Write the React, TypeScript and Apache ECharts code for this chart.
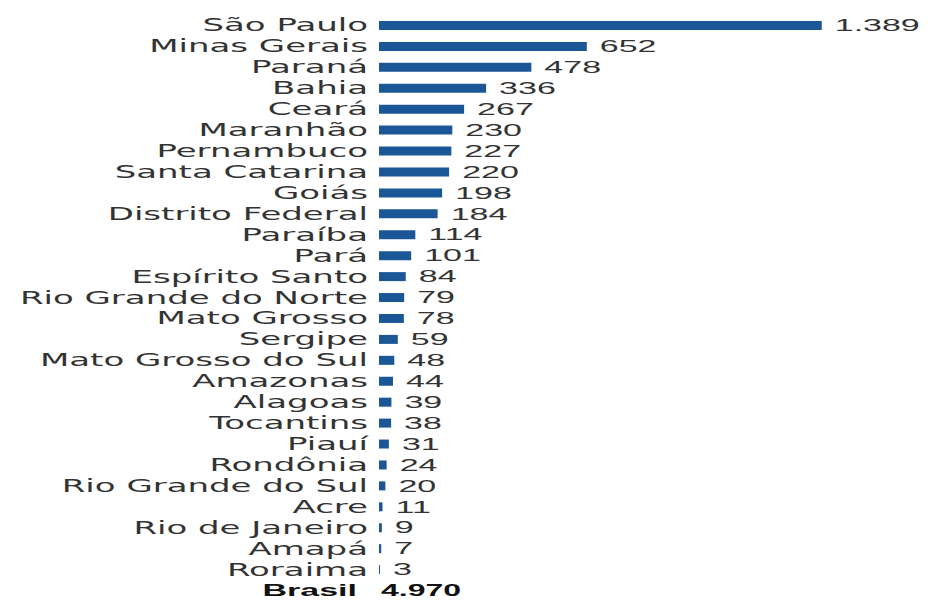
import React, { useEffect, useRef } from "react";
import * as echarts from "echarts";

const categories = [
  "São Paulo", "Minas Gerais", "Paraná", "Bahia", "Ceará", "Maranhão", "Pernambuco",
  "Santa Catarina", "Goiás", "Distrito Federal", "Paraíba", "Pará", "Espírito Santo",
  "Rio Grande do Norte", "Mato Grosso", "Sergipe", "Mato Grosso do Sul", "Amazonas",
  "Alagoas", "Tocantins", "Piauí", "Rondônia", "Rio Grande do Sul", "Acre",
  "Rio de Janeiro", "Amapá", "Roraima",
];
const values = [
  1389, 652, 478, 336, 267, 230, 227, 220, 198, 184, 114, 101, 84, 79, 78, 59, 48, 44,
  39, 38, 31, 24, 20, 11, 9, 7, 3,
];
const totalLabel = "Brasil";
const totalValue = 4970;

const fmt = (n: number) => String(n).replace(/\B(?=(\d{3})+(?!\d))/g, ".");

export default function App() {
  const ref = useRef<HTMLDivElement>(null);
  useEffect(() => {
    if (!ref.current) return;
    const chart = echarts.init(ref.current, undefined, { renderer: "svg" });
    const data: any[] = values.map((v) => v);
    data.push({
      value: 0,
      itemStyle: { color: "transparent" },
      label: {
        formatter: fmt(totalValue),
        fontWeight: "bold",
        color: "#111",
        fontSize: 16,
        distance: 1,
      },
    });
    chart.setOption({
      animation: false,
      grid: { left: 189.5, top: 15, width: 255, height: 593, containLabel: false },
      xAxis: { type: "value", min: 0, max: 1600, show: false },
      yAxis: {
        type: "category",
        inverse: true,
        data: [...categories, totalLabel],
        axisLine: { show: false },
        axisTick: { show: false },
        splitLine: { show: false },
        axisLabel: {
          margin: 5.5,
          fontSize: 17,
          fontFamily: "DejaVu Sans",
          color: "#333",
          interval: 0,
          formatter: (v: string) => (v === totalLabel ? `{b|${v}}` : v),
          rich: {
            b: {
              fontWeight: "bold",
              color: "#111",
              fontSize: 17,
              fontFamily: "Liberation Sans",
              padding: [0, 5.5, 0, 0],
            },
          },
        },
      },
      series: [
        {
          type: "bar",
          data,
          barWidth: 9,
          itemStyle: { color: "#1b5797" },
          label: {
            show: true,
            position: "right",
            distance: 6.5,
            fontSize: 17,
            fontFamily: "Liberation Sans",
            color: "#333",
            formatter: (p: any) => fmt(p.value),
          },
        },
      ],
    });
    return () => chart.dispose();
  }, []);
  return (
    <div
      style={{
        position: "fixed",
        left: 0,
        top: 0,
        width: 928,
        height: 601,
        overflow: "hidden",
        background: "#fff",
      }}
    >
      <div
        ref={ref}
        style={{ width: 464, height: 601, transform: "scaleX(2)", transformOrigin: "0 0" }}
      />
    </div>
  );
}
